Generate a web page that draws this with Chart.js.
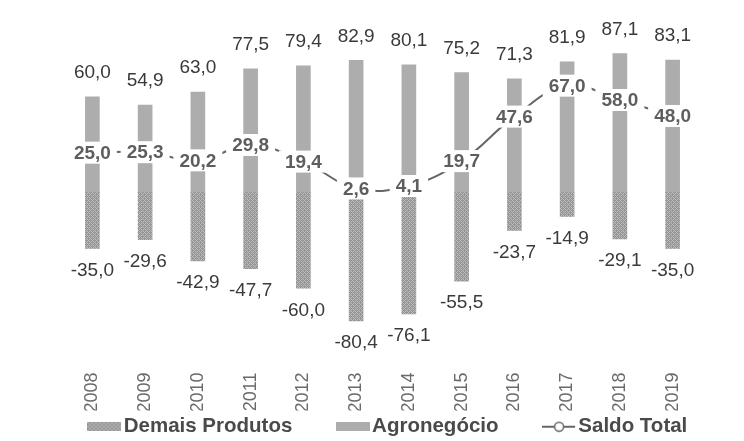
<!DOCTYPE html>
<html>
<head>
<meta charset="utf-8">
<script src="https://cdn.jsdelivr.net/npm/chart.js@4/dist/chart.umd.min.js"></script>
<style>
  html, body { margin: 0; padding: 0; background: #fff; }
  #wrap { width: 744px; height: 441px; }
</style>
</head>
<body>
<div id="wrap"><canvas id="chart" width="744" height="441"></canvas></div>
<script>
const years = ['2008','2009','2010','2011','2012','2013','2014','2015','2016','2017','2018','2019'];
const agronegocio = [60.0, 54.9, 63.0, 77.5, 79.4, 82.9, 80.1, 75.2, 71.3, 81.9, 87.1, 83.1];
const demaisProdutos = [-35.0, -29.6, -42.9, -47.7, -60.0, -80.4, -76.1, -55.5, -23.7, -14.9, -29.1, -35.0];
const saldoTotal = [25.0, 25.3, 20.2, 29.8, 19.4, 2.6, 4.1, 19.7, 47.6, 67.0, 58.0, 48.0];

const fmt = v => v.toFixed(1).replace('.', ',');
const FONT = '"Liberation Sans", Arial, sans-serif';

// crosshatch fill for Demais Produtos
function hatchCanvas(w, h) {
  let c = document.createElement('canvas');
  c.width = w; c.height = h;
  let g = c.getContext('2d');
  g.fillStyle = '#959595';
  g.fillRect(0, 0, w, h);
  g.fillStyle = '#bcbcbc';
  for (let y = 0; y < h; y++) {
    for (let x = 0; x < w; x++) {
      if ((x + y) % 4 === 0 || (x - y + 40) % 4 === 0) g.fillRect(x, y, 1, 1);
    }
  }
  return c;
}
const tile = hatchCanvas(8, 8);
const ctx = document.getElementById('chart').getContext('2d');
const hatch = ctx.createPattern(tile, 'repeat');

// legend icons: 34px wide, drawn right next to the text
function boxIcon(fill) {
  let c = document.createElement('canvas');
  c.width = 34; c.height = 9;
  let g = c.getContext('2d');
  g.fillStyle = fill === 'hatch' ? g.createPattern(tile, 'repeat') : fill;
  g.fillRect(0, 0, 34, 9);
  return c;
}
function lineIcon() {
  let c = document.createElement('canvas');
  c.width = 34; c.height = 12;
  let g = c.getContext('2d');
  g.strokeStyle = '#666';
  g.lineWidth = 2;
  g.beginPath(); g.moveTo(0, 6); g.lineTo(33, 6); g.stroke();
  g.fillStyle = '#fff';
  g.lineWidth = 1.5;
  g.beginPath(); g.arc(17, 6, 4.5, 0, Math.PI * 2); g.fill(); g.stroke();
  return c;
}
const icons = [boxIcon('hatch'), boxIcon('#adadad'), lineIcon()];
const legendText = ['Demais Produtos        ', 'Agronegócio        ', 'Saldo Total '];

const valueLabels = {
  id: 'valueLabels',
  afterDatasetsDraw(chart) {
    const c = chart.ctx;
    c.save();
    c.textAlign = 'center';
    c.textBaseline = 'middle';
    // bars
    c.font = '19px ' + FONT;
    c.fillStyle = '#3a3a3a';
    chart.getDatasetMeta(0).data.forEach((bar, i) => {
      c.fillText(fmt(demaisProdutos[i]), bar.x, bar.y + 22);
    });
    chart.getDatasetMeta(1).data.forEach((bar, i) => {
      c.fillText(fmt(agronegocio[i]), bar.x, bar.y - 24);
    });
    // saldo labels with white box
    c.font = 'bold 19px ' + FONT;
    chart.getDatasetMeta(2).data.forEach((pt, i) => {
      let t = fmt(saldoTotal[i]);
      let w = c.measureText(t).width + 12;
      c.fillStyle = '#fff';
      c.fillRect(pt.x - w / 2, pt.y - 11, w, 22);
      c.fillStyle = '#5e5e5e';
      c.fillText(t, pt.x, pt.y + 1);
    });
    c.restore();
  }
};

new Chart(ctx, {
  data: {
    labels: years,
    datasets: [{
      type: 'bar',
      label: 'Demais Produtos',
      data: demaisProdutos,
      backgroundColor: hatch,
      barThickness: 14,
      order: 2
    },
    {
      type: 'bar',
      label: 'Agronegócio',
      data: agronegocio,
      backgroundColor: '#adadad',
      barThickness: 14,
      order: 2
    },
    {
      type: 'line',
      label: 'Saldo Total',
      data: saldoTotal,
      borderColor: '#666',
      borderWidth: 2,
      tension: 0.4,
      pointRadius: 4,
      pointBackgroundColor: '#fff',
      pointBorderColor: '#666',
      order: 1
    }]
  },
  options: {
    responsive: false,
    animation: false,
    layout: { padding: { left: 56, right: 45, top: 33, bottom: -6 } },
    scales: {
      x: {
        stacked: true,
        grid: { display: false },
        border: { display: false },
        ticks: {
          minRotation: 90,
          maxRotation: 90,
          padding: 6,
          color: '#6a6a6a',
          font: { family: FONT, size: 18 }
        },
        afterFit: s => { s.height = 52; }
      },
      y: {
        min: -104,
        max: 100,
        grid: { display: false },
        border: { display: false },
        ticks: { display: false },
        afterFit: s => { s.width = 10; }
      }
    },
    plugins: {
      tooltip: { enabled: false },
      legend: {
        position: 'bottom',
        align: 'end',
        labels: {
          usePointStyle: true,
          pointStyleWidth: 18,
          padding: 6,
          color: '#444',
          font: { family: FONT, size: 20.5, weight: 'bold' },
          generateLabels: chart => chart.data.datasets.map((ds, i) => ({
            text: legendText[i],
            fillStyle: '#aaa',
            strokeStyle: '#666',
            lineWidth: 0,
            hidden: false,
            datasetIndex: i,
            pointStyle: icons[i],
            fontColor: '#4a4a4a'
          }))
        }
      }
    }
  },
  plugins: [valueLabels]
});
</script>
</body>
</html>
